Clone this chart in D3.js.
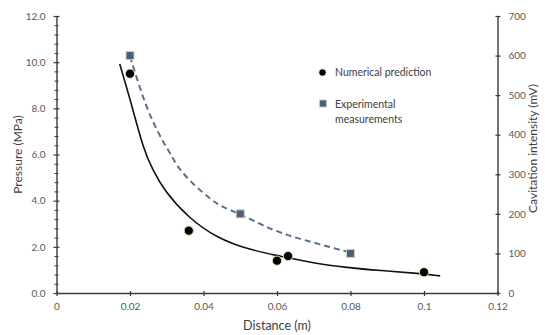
<!DOCTYPE html>
<html><head><meta charset="utf-8">
<script src="https://cdn.jsdelivr.net/npm/d3@7"></script>
<style>body{margin:0;background:#fff}svg{display:block}</style>
</head><body><svg id="c" width="545" height="335"></svg>
<script>
// ---- data ----
const numX = [0.020, 0.036, 0.060, 0.063, 0.100];
const numY = [9.5, 2.7, 1.4, 1.6, 0.9];
const expX = [0.02, 0.05, 0.08];
const expY = [600, 200, 100];
// trend curves
const fitNumX = [0.0172, 0.0201, 0.0237, 0.0262, 0.0292, 0.0357, 0.0437, 0.0527, 0.0609, 0.0699, 0.0790, 0.0881, 0.0989, 0.1044];
const fitNumY = [9.92, 8.36, 6.20, 5.33, 4.46, 3.28, 2.37, 1.86, 1.60, 1.29, 1.10, 0.97, 0.85, 0.74];
const fitExpX = [0.0200, 0.0237, 0.0264, 0.0292, 0.0310, 0.0328, 0.0373, 0.0428, 0.0446, 0.0500, 0.0554, 0.0582, 0.0627, 0.0654, 0.0736, 0.0800];
const fitExpY = [598, 488, 429, 378, 353, 319, 273, 231, 220, 199, 175, 162, 147, 139, 118, 102];
const xTicks = [0, 0.02, 0.04, 0.06, 0.08, 0.1, 0.12];
const xTickLabels = ["0", "0.02", "0.04", "0.06", "0.08", "0.1", "0.12"];
const yLeftTicks = [0, 2, 4, 6, 8, 10, 12];
const yLeftMinor = [0.4,0.8,1.2,1.6,2.4,2.8,3.2,3.6,4.4,4.8,5.2,5.6,6.4,6.8,7.2,7.6,8.4,8.8,9.2,9.6,10.4,10.8,11.2,11.6];
const yRightTicks = [0, 100, 200, 300, 400, 500, 600, 700];
const legendLabels = [["Numerical prediction"], ["Experimental", "measurements"]];
const titles = {x: "Distance (m)", yl: "Pressure (MPa)", yr: "Cavitation intensity (mV)"};

// ---- chart ----
const svg = d3.select("#c");
const FONT = "Lato, 'Open Sans', sans-serif";
const L = 56.5, R = 497.5, T = 16, B = 293;
const x = d3.scaleLinear().domain([0, 0.12]).range([L, R]);
const yL = d3.scaleLinear().domain([0, 12]).range([B, T]);
const yR = d3.scaleLinear().domain([0, 700]).range([B, T]);
const axisColor = "#3a3a3a", labelColor = "#595959";

function style(g) {
  g.select(".domain").attr("stroke", axisColor).attr("stroke-width", 1.4);
  g.selectAll(".tick line").attr("stroke", axisColor).attr("stroke-width", 1.2);
  g.selectAll(".tick text").attr("fill", labelColor).style("font-family", FONT).style("font-size", "10px");
}

// x axis
const gx = svg.append("g").attr("transform", `translate(0,${B})`)
  .call(d3.axisBottom(x).tickValues(xTicks).tickFormat((d, i) => xTickLabels[i]).tickSizeInner(3).tickSizeOuter(0).tickPadding(7));
style(gx);
gx.selectAll(".tick line").attr("y1", -2).attr("y2", 3);

// left axis minor
const gm = svg.append("g").attr("transform", `translate(${L},0)`)
  .call(d3.axisLeft(yL).tickValues(yLeftMinor).tickFormat("").tickSizeOuter(0));
gm.select(".domain").remove();
gm.selectAll(".tick line").attr("x1", -2).attr("x2", 2).attr("stroke", axisColor).attr("stroke-width", 1);

// left axis
const gl = svg.append("g").attr("transform", `translate(${L},0)`)
  .call(d3.axisLeft(yL).tickValues(yLeftTicks).tickFormat(d3.format(".1f")).tickSizeInner(3).tickSizeOuter(0).tickPadding(8));
style(gl);
gl.selectAll(".tick line").attr("x1", -3).attr("x2", 3);

// right axis
const gr = svg.append("g").attr("transform", `translate(${R},0)`)
  .call(d3.axisRight(yR).tickValues(yRightTicks).tickSizeInner(3).tickSizeOuter(0).tickPadding(8));
style(gr);
gr.selectAll(".tick line").attr("x1", -2).attr("x2", 3);

// titles
svg.append("text").attr("x", (L + R) / 2).attr("y", 330).attr("text-anchor", "middle")
  .style("font-family", FONT).style("font-size", "12.5px").attr("fill", "#404040").text(titles.x);
svg.append("text").attr("transform", `translate(22,${(T + B) / 2}) rotate(-90)`).attr("text-anchor", "middle")
  .style("font-family", FONT).style("font-size", "12px").attr("fill", "#404040").text(titles.yl);
svg.append("text").attr("transform", `translate(537,${(T + B) / 2 - 6}) rotate(-90)`).attr("text-anchor", "middle")
  .style("font-family", FONT).style("font-size", "12px").attr("fill", "#404040").text(titles.yr);

// trend lines
const lineL = d3.line().x(d => x(d[0])).y(d => yL(d[1])).curve(d3.curveBasis);
const lineR = d3.line().x(d => x(d[0])).y(d => yR(d[1])).curve(d3.curveBasis);
svg.append("path").datum(d3.zip(fitNumX, fitNumY)).attr("d", lineL)
  .attr("fill", "none").attr("stroke", "#111").attr("stroke-width", 1.6);
svg.append("path").datum(d3.zip(fitExpX, fitExpY)).attr("d", lineR)
  .attr("fill", "none").attr("stroke", "#5b6f8c").attr("stroke-width", 2).attr("stroke-dasharray", "6,4");

// points
const sq = 8;
svg.append("g").selectAll("rect").data(d3.zip(expX, expY)).join("rect")
  .attr("x", d => x(d[0]) - sq / 2).attr("y", d => yR(d[1]) - sq / 2).attr("width", sq).attr("height", sq)
  .attr("fill", "#4e6079").attr("stroke", "#c8d4b4").attr("stroke-width", 1);
svg.append("g").selectAll("circle").data(d3.zip(numX, numY)).join("circle")
  .attr("cx", d => x(d[0])).attr("cy", d => yL(d[1])).attr("r", 4.6)
  .attr("fill", "#000").attr("stroke", "#d6e3a6").attr("stroke-width", 1);

// legend
const lg = svg.append("g");
lg.append("circle").attr("cx", 322.5).attr("cy", 72.5).attr("r", 3.6).attr("fill", "#000").attr("stroke", "#d6e3a6").attr("stroke-width", 0.8);
lg.append("rect").attr("x", 319.5).attr("y", 100).attr("width", 7).attr("height", 7).attr("fill", "#4e6079").attr("stroke", "#c8d4b4").attr("stroke-width", 0.8);
const ty = [[76], [107.5, 122.5]];
legendLabels.forEach((lines, i) => lines.forEach((t, j) => {
  lg.append("text").attr("x", 335).attr("y", ty[i][j]).style("font-family", FONT).style("font-size", "10.5px")
    .attr("fill", "#404040").text(t);
}));
</script></body></html>
